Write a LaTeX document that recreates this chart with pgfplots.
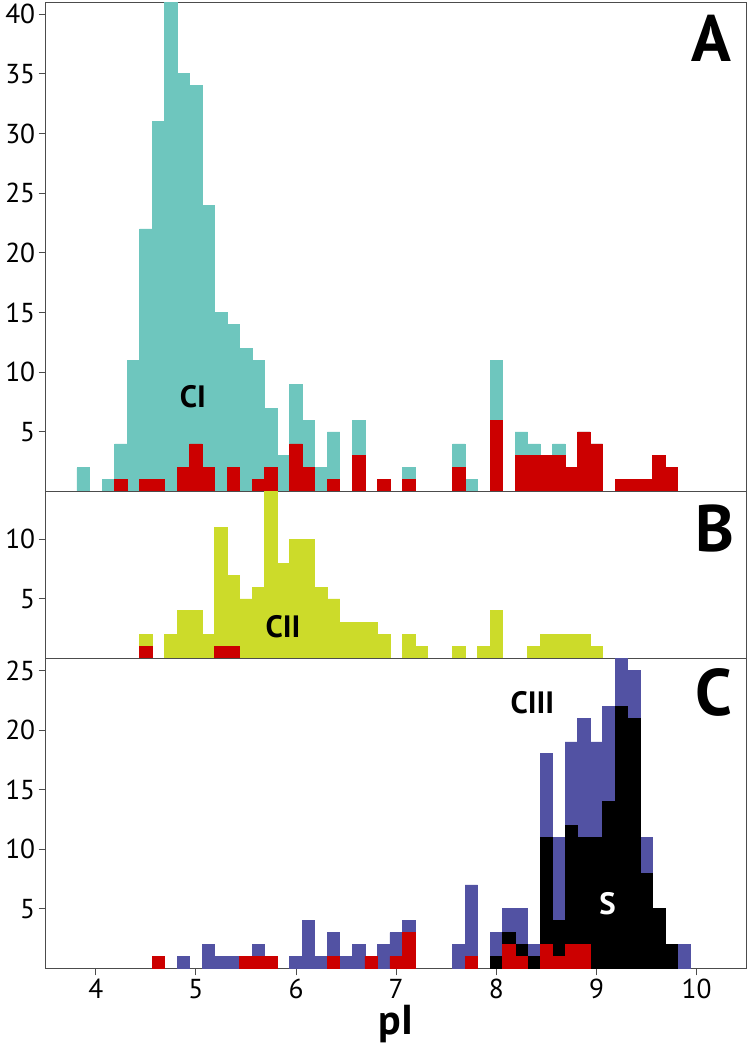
\documentclass[border=0pt]{standalone}
\usepackage{fontspec}
\setmainfont{PT Sans}
\usepackage{pgfplots}
\pgfplotsset{compat=1.18}
\definecolor{cteal}{RGB}{110,198,190}
\definecolor{cred}{RGB}{204,0,0}
\definecolor{cyel}{RGB}{204,219,42}
\definecolor{cblue}{RGB}{82,82,163}
\pgfplotsset{
  panel/.style={
    scale only axis, width=701bp, xmin=3.5, xmax=10.5, ymin=0,
    axis line style={black!70, line width=1bp},
    tick style={black!70, line width=1bp},
    tick align=outside, major tick length=7bp,
    ytick pos=left, xtick pos=lower,
    /pgf/number format/assume math mode=true,
    tick label style={font=\fontsize{27.5}{27.5}\selectfont},
    clip=true,
  },
  hb/.style={ybar, bar width=0.125, bar shift=0pt, fill=#1, draw=#1, line width=0.8bp},
}
\begin{document}
\begin{tikzpicture}
\useasboundingbox (0,0) rectangle (750bp,-1053bp);
% Panel A
\begin{axis}[panel, at={(45.7bp,-2.7bp)}, anchor=north west, height=489bp,
  ymax=40.95, ytick={5,10,...,40}, xtick=\empty]
\addplot[hb=cteal] coordinates {(3.875,2)(4.125,1)(4.25,4)(4.375,11)(4.5,22)(4.625,31)(4.75,42)(4.875,35)(5.0,34)(5.125,24)(5.25,15)(5.375,14)(5.5,12)(5.625,11)(5.75,7)(5.875,3)(6.0,9)(6.125,6)(6.25,2)(6.375,5)(6.625,6)(6.875,1)(7.125,2)(7.625,4)(7.75,1)(8.0,11)(8.25,5)(8.375,4)(8.5,3)(8.625,4)(8.75,2)(8.875,5)(9.0,4)(9.25,1)(9.375,1)(9.5,1)(9.625,3)(9.75,2)};
\addplot[hb=cred] coordinates {(4.25,1)(4.5,1)(4.625,1)(4.875,2)(5.0,4)(5.125,2)(5.375,2)(5.625,1)(5.75,2)(6.0,4)(6.125,2)(6.375,1)(6.625,3)(6.875,1)(7.125,1)(7.625,2)(8.0,6)(8.25,3)(8.375,3)(8.5,3)(8.625,3)(8.75,2)(8.875,5)(9.0,4)(9.25,1)(9.375,1)(9.5,1)(9.625,3)(9.75,2)};
\node[font=\fontsize{66}{66}\selectfont\bfseries] at (rel axis cs:0.950,0.927) {A};
\node[font=\fontsize{31}{31}\selectfont\bfseries] at (axis cs:4.97,7.95) {CI};
\end{axis}
% Panel B
\begin{axis}[panel, at={(45.7bp,-491.7bp)}, anchor=north west, height=166.8bp,
  ymax=14, ytick={5,10}, xtick=\empty]
\addplot[hb=cyel] coordinates {(4.5,2)(4.75,2)(4.875,4)(5.0,4)(5.125,2)(5.25,11)(5.375,7)(5.5,5)(5.625,6)(5.75,15)(5.875,8)(6.0,10)(6.125,10)(6.25,6)(6.375,5)(6.5,3)(6.625,3)(6.75,3)(6.875,2)(7.125,2)(7.25,1)(7.625,1)(7.875,1)(8.0,4)(8.375,1)(8.5,2)(8.625,2)(8.75,2)(8.875,2)(9.0,1)};
\addplot[hb=cred] coordinates {(4.5,1)(5.25,1)(5.375,1)};
\node[font=\fontsize{66}{66}\selectfont\bfseries] at (rel axis cs:0.955,0.782) {B};
\node[font=\fontsize{31}{31}\selectfont\bfseries] at (axis cs:5.87,2.66) {CII};
\end{axis}
% Panel C
\begin{axis}[panel, at={(45.7bp,-658.5bp)}, anchor=north west, height=309.9bp,
  ymax=26, ytick={5,10,...,25}, xtick={4,5,...,10},
  xlabel={pI}, xlabel style={font=\fontsize{42}{42}\selectfont\bfseries}]
\addplot[hb=cblue] coordinates {(4.625,1)(4.875,1)(5.125,2)(5.25,1)(5.375,1)(5.5,1)(5.625,2)(5.75,1)(6.0,1)(6.125,4)(6.25,1)(6.375,3)(6.5,1)(6.625,2)(6.75,1)(6.875,2)(7.0,3)(7.125,4)(7.625,2)(7.75,7)(8.0,3)(8.125,5)(8.25,5)(8.375,2)(8.5,18)(8.625,11)(8.75,19)(8.875,21)(9.0,19)(9.125,22)(9.25,27)(9.375,25)(9.5,11)(9.625,5)(9.75,2)(9.875,2)};
\addplot[hb=black] coordinates {(8.0,1)(8.125,3)(8.25,2)(8.375,1)(8.5,11)(8.625,4)(8.75,12)(8.875,11)(9.0,11)(9.125,14)(9.25,22)(9.375,21)(9.5,8)(9.625,5)(9.75,2)};
\addplot[hb=cred] coordinates {(4.625,1)(5.5,1)(5.625,1)(5.75,1)(6.375,1)(6.75,1)(7.0,1)(7.125,3)(7.75,1)(8.125,2)(8.25,1)(8.5,2)(8.625,1)(8.75,2)(8.875,2)};
\node[font=\fontsize{66}{66}\selectfont\bfseries] at (rel axis cs:0.953,0.889) {C};
\node[font=\fontsize{31}{31}\selectfont\bfseries] at (axis cs:8.36,22.27) {CIII};
\node[font=\fontsize{31}{31}\selectfont\bfseries, text=white] at (axis cs:9.11,5.39) {S};
\end{axis}
\end{tikzpicture}
\end{document}
